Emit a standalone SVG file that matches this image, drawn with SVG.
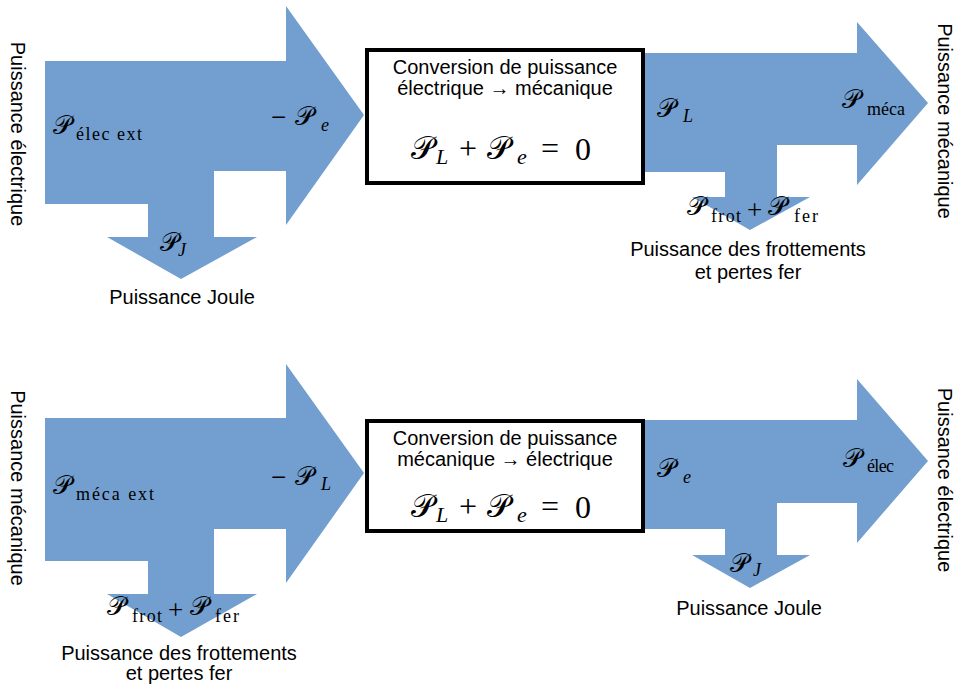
<svg xmlns="http://www.w3.org/2000/svg" width="956" height="687" viewBox="0 0 956 687">
<style>
.arrow{fill:#729fcf;stroke:none}
.box{fill:#fff;stroke:#000;stroke-width:4}
.lbl{font-family:"Liberation Sans",Arial,sans-serif;font-size:20px;fill:#000}
.ctr{text-anchor:middle}
.P{font-family:"DejaVu Serif","DejaVu Sans",serif;font-size:26px;fill:#000}
.Pb{font-family:"DejaVu Serif","DejaVu Sans",serif;font-size:32px;fill:#000}
.sub{font-family:"Liberation Serif","Times New Roman",serif;font-size:18px;fill:#000}
.isub{font-family:"Liberation Serif","Times New Roman",serif;font-size:18px;font-style:italic;fill:#000}
.isubb{font-family:"Liberation Serif","Times New Roman",serif;font-size:22px;font-style:italic;fill:#000}
.op{font-family:"Liberation Serif","Times New Roman",serif;font-size:27px;fill:#000}
.opb{font-family:"Liberation Serif","Times New Roman",serif;font-size:32px;fill:#000}
</style>
<rect width="956" height="687" fill="#fff"/>

<g id="arrow-top-left">
<path class="arrow" d="M45,61 H286 V6 L364,115 L286,225 V171 H214 V237 H257 L181,279 L107,237 H148 V204 H45 Z"/>
<text class="lbl ctr" transform="translate(11,134) rotate(90)">Puissance électrique</text>
<text class="P" x="53" y="134">𝒫</text><text class="sub" x="76" y="140" textLength="66">élec ext</text>
<text class="op" x="271" y="126">−</text><text class="P" x="295" y="125">𝒫</text><text class="isub" x="321" y="131">e</text>
<text class="P" x="160" y="251">𝒫</text><text class="isub" x="178" y="256">J</text>
<text class="lbl ctr" x="182" y="304">Puissance Joule</text>
</g>

<g id="arrow-top-right">
<path class="arrow" d="M643,53 H857 V22 L928,103 L857,185 V145 H777 V197 H810 L750,230 L692,197 H725 V172 H643 Z"/>
<text class="lbl ctr" transform="translate(938,121) rotate(90)">Puissance mécanique</text>
<text class="P" x="657" y="117">𝒫</text><text class="isub" x="683" y="122">L</text>
<text class="P" x="842" y="108">𝒫</text><text class="sub" x="867" y="115" textLength="38">méca</text>
<text class="P" x="687" y="215">𝒫</text><text class="sub" x="711" y="222" textLength="30">frot</text><text class="op" x="747" y="219">+</text><text class="P" x="768" y="215">𝒫</text><text class="sub" x="794" y="222" textLength="24">fer</text>
<text class="lbl ctr" x="748" y="256">Puissance des frottements</text>
<text class="lbl ctr" x="748" y="279">et pertes fer</text>
</g>

<g id="box-top">
<rect class="box" x="367" y="50" width="276" height="133"/>
<text class="lbl ctr" x="505" y="74">Conversion de puissance</text>
<text class="lbl ctr" x="505" y="95">électrique → mécanique</text>
<text class="Pb" x="411" y="159">𝒫</text><text class="isubb" x="436" y="164">L</text><text class="opb" x="459" y="159">+</text><text class="Pb" x="487" y="159">𝒫</text><text class="isubb" x="517" y="164">e</text><text class="opb" x="541" y="159">=</text><text class="opb" x="575" y="160">0</text>
</g>

<g id="arrow-bottom-left">
<path class="arrow" d="M45,418 H286 V364 L364,473 L286,583 V529 H214 V594 H257 L181,637 L107,594 H148 V561 H45 Z"/>
<text class="lbl ctr" transform="translate(11,488) rotate(90)">Puissance mécanique</text>
<text class="P" x="53" y="494">𝒫</text><text class="sub" x="76" y="500" textLength="78">méca ext</text>
<text class="op" x="271" y="486">−</text><text class="P" x="295" y="485">𝒫</text><text class="isub" x="321" y="490">L</text>
<text class="P" x="107" y="615">𝒫</text><text class="sub" x="132" y="622" textLength="30">frot</text><text class="op" x="168" y="619">+</text><text class="P" x="190" y="615">𝒫</text><text class="sub" x="215" y="622" textLength="24">fer</text>
<text class="lbl ctr" x="179" y="660">Puissance des frottements</text>
<text class="lbl ctr" x="179" y="680">et pertes fer</text>
</g>

<g id="arrow-bottom-right">
<path class="arrow" d="M643,420 H857 V379 L928,461 L857,543 V503 H777 V555 H810 L750,588 L692,555 H725 V529 H643 Z"/>
<text class="lbl ctr" transform="translate(938,480) rotate(90)">Puissance électrique</text>
<text class="P" x="657" y="477">𝒫</text><text class="isub" x="683" y="483">e</text>
<text class="P" x="843" y="467">𝒫</text><text class="sub" x="867" y="472" textLength="27">élec</text>
<text class="P" x="730" y="572">𝒫</text><text class="isub" x="753" y="576">J</text>
<text class="lbl ctr" x="749" y="615">Puissance Joule</text>
</g>

<g id="box-bottom">
<rect class="box" x="367" y="421" width="276" height="110"/>
<text class="lbl ctr" x="505" y="445">Conversion de puissance</text>
<text class="lbl ctr" x="505" y="466">mécanique → électrique</text>
<text class="Pb" x="411" y="517">𝒫</text><text class="isubb" x="436" y="522">L</text><text class="opb" x="459" y="517">+</text><text class="Pb" x="487" y="517">𝒫</text><text class="isubb" x="517" y="522">e</text><text class="opb" x="541" y="517">=</text><text class="opb" x="575" y="518">0</text>
</g>

<g id="connectors"></g>
</svg>
